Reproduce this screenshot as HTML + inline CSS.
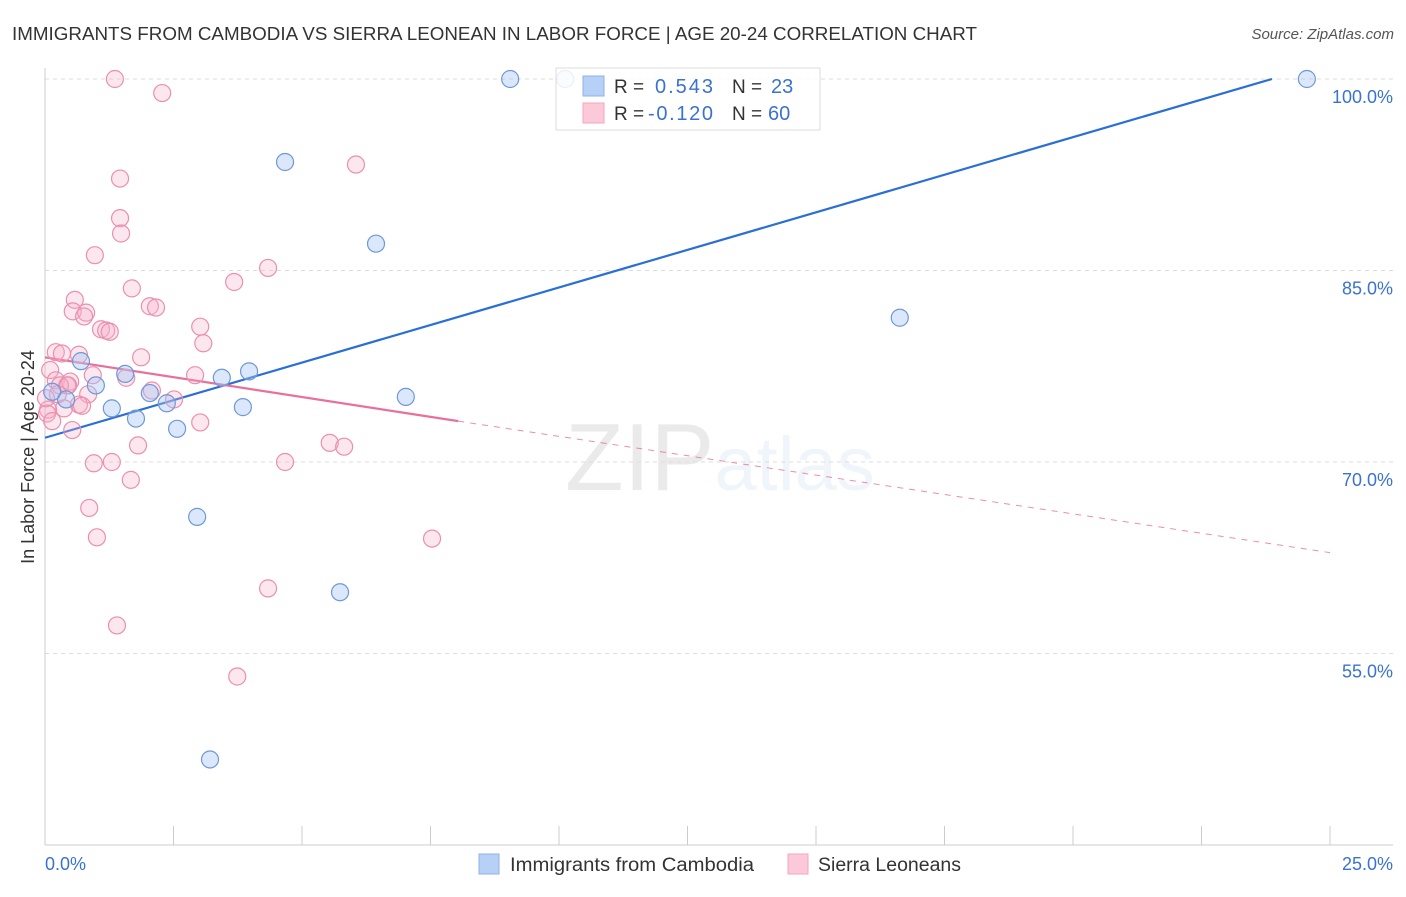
<!DOCTYPE html>
<html><head><meta charset="utf-8"><style>
body{margin:0;background:#fff;font-family:"Liberation Sans",sans-serif}
svg text{font-family:"Liberation Sans",sans-serif}
</style></head><body>
<svg id="chart" width="1406" height="892" xmlns="http://www.w3.org/2000/svg">
<text x="12" y="40" font-size="18" fill="#333" textLength="965" lengthAdjust="spacingAndGlyphs">IMMIGRANTS FROM CAMBODIA VS SIERRA LEONEAN IN LABOR FORCE | AGE 20-24 CORRELATION CHART</text>
<text x="1394" y="39" font-size="15" fill="#555" text-anchor="end" font-style="italic">Source: ZipAtlas.com</text>
<text x="720" y="490" font-size="96" text-anchor="middle" fill="#000" opacity="0.08" font-family="Liberation Serif"><tspan>ZIP</tspan><tspan font-family="Liberation Sans" font-size="76" fill="#4a7fd6" opacity="1.5">atlas</tspan></text>
<g id="grid"></g><g id="axes"></g><g id="lines"></g><g id="pts"></g>
<text transform="translate(34,457) rotate(-90)" font-size="18" fill="#333" text-anchor="middle">In Labor Force | Age 20-24</text>
<g>
<rect x="556" y="68" width="264" height="62" fill="#fff" fill-opacity="0.85" stroke="#ddd"/>
<rect x="583" y="76" width="21" height="20" fill="#b7d0f5" stroke="#8fb2ea"/>
<rect x="583" y="103" width="21" height="20" fill="#fcc9d8" stroke="#f2a7bf"/>
<text x="614" y="93" font-size="19" fill="#333">R =</text><text x="655" y="93" font-size="20" fill="#3a72d0" textLength="58">0.543</text>
<text x="732" y="93" font-size="19" fill="#333">N =</text><text x="771" y="93" font-size="20" fill="#3a72d0">23</text>
<text x="614" y="120" font-size="19" fill="#333">R =</text><text x="648" y="120" font-size="20" fill="#3a72d0" textLength="65">-0.120</text>
<text x="732" y="120" font-size="19" fill="#333">N =</text><text x="768" y="120" font-size="20" fill="#3a72d0">60</text>
</g>
<g>
<rect x="479" y="854" width="20" height="20" fill="#b7d0f5" stroke="#8fb2ea"/>
<text x="510" y="871" font-size="19" fill="#333" textLength="244" lengthAdjust="spacingAndGlyphs">Immigrants from Cambodia</text>
<rect x="788" y="854" width="20" height="20" fill="#fcc9d8" stroke="#f2a7bf"/>
<text x="818" y="871" font-size="19" fill="#333" textLength="143" lengthAdjust="spacingAndGlyphs">Sierra Leoneans</text>
</g>
</svg>
<script>
const yTicks=[100,85,70,55];
const yTickLabels=["100.0%","85.0%","70.0%","55.0%"];
const xTickLabels=["0.0%","25.0%"];
const blueX=[9.05,10.12,24.55,4.67,6.44,16.63,0.70,1.56,0.99,3.97,3.44,2.04,2.37,0.41,1.30,3.85,7.02,1.77,2.57,2.96,5.74,3.21,0.14];
const blueY=[100,100,100,93.5,87.1,81.3,77.9,76.9,76.0,77.1,76.6,75.4,74.6,74.9,74.2,74.3,75.1,73.4,72.6,65.7,59.8,46.7,75.5];
const pinkX=[1.36,2.28,6.05,1.46,1.46,1.48,0.97,4.34,3.68,1.69,0.58,2.04,2.16,0.54,0.80,0.76,3.02,1.09,1.19,1.26,3.08,1.87,0.21,0.33,0.66,0.10,0.93,2.92,1.58,0.21,0.49,0.43,2.08,0.84,2.51,0.37,0.66,0.72,0.06,0.04,0.14,3.02,0.53,5.54,5.82,1.81,0.95,1.30,4.67,1.67,0.86,1.01,7.53,4.34,1.40,3.74,0.29,0.45,0.25,0.02];
const pinkY=[100,98.9,93.3,92.2,89.1,87.9,86.2,85.2,84.1,83.6,82.7,82.2,82.1,81.8,81.7,81.4,80.6,80.4,80.3,80.2,79.3,78.2,78.6,78.5,78.4,77.2,76.8,76.8,76.6,76.4,76.3,76.0,75.6,75.3,74.9,74.2,74.5,74.4,74.1,73.8,73.2,73.1,72.5,71.5,71.2,71.3,69.9,70.0,70.0,68.6,66.4,64.1,64.0,60.1,57.2,53.2,76.0,76.0,75.3,75.0];
const blueTrend=[[0,71.9],[23.87,100]];
const pinkTrend=[[0,78.2],[8.04,73.2],[25,62.9]];
const X=v=>45+v*1285/25, Y=v=>79+(100-v)*191.5/15;
const NS="http://www.w3.org/2000/svg";
function mk(p,t,a){const e=document.createElementNS(NS,t);for(const k in a)e.setAttribute(k,a[k]);p.appendChild(e);return e;}
const grid=document.getElementById('grid'),axes=document.getElementById('axes'),lines=document.getElementById('lines'),pts=document.getElementById('pts');
yTicks.forEach((v,i)=>{
 const l=mk(grid,'line',{x1:45,x2:1393,y1:Y(v),y2:Y(v),stroke:'#ddd','stroke-dasharray':'4,4'});
 
 
 const t=mk(axes,'text',{x:1393,y:Y(v)+24,'font-size':18,fill:'#3a72d0','text-anchor':'end'});t.textContent=yTickLabels[i];
 
 
});
mk(axes,'line',{x1:45,x2:45,y1:68,y2:845,stroke:'#ccc'});
mk(axes,'line',{x1:45,x2:1393,y1:845,y2:845,stroke:'#ccc'});
for(let k=0;k<=10;k++){const tk=mk(axes,'line',{x1:X(k*2.5),x2:X(k*2.5),y1:826,y2:845,stroke:'#ccc'});
 
 }
[[0,'start'],[25,'end']].forEach((d,i)=>{const t=mk(axes,'text',{x:i?1393:45,y:870,'font-size':18,fill:'#3a72d0','text-anchor':d[1]});t.textContent=xTickLabels[i];
 
 });
function dot(x,y,f,s,name){const c=mk(pts,'circle',{cx:X(x),cy:Y(y),r:8.5,fill:f,stroke:s,'stroke-width':1.2});
 
 }
pinkX.forEach((x,i)=>dot(x,pinkY[i],'rgba(246,176,200,0.3)','#ec8fae','sierra-point'));
blueX.forEach((x,i)=>dot(x,blueY[i],'rgba(164,194,244,0.4)','#6f98d8','cambodia-point'));
const bl=mk(lines,'line',{x1:X(blueTrend[0][0]),y1:Y(blueTrend[0][1]),x2:X(blueTrend[1][0]),y2:Y(blueTrend[1][1]),stroke:'#2a6fd6','stroke-width':2.2});


const pl=mk(lines,'line',{x1:X(pinkTrend[0][0]),y1:Y(pinkTrend[0][1]),x2:X(pinkTrend[1][0]),y2:Y(pinkTrend[1][1]),stroke:'#e8709a','stroke-width':2.2});


const pd=mk(lines,'line',{x1:X(pinkTrend[1][0]),y1:Y(pinkTrend[1][1]),x2:X(pinkTrend[2][0]),y2:Y(pinkTrend[2][1]),stroke:'#e8709a','stroke-width':1,'stroke-dasharray':'6,6',opacity:0.8});


</script>
</body></html>
